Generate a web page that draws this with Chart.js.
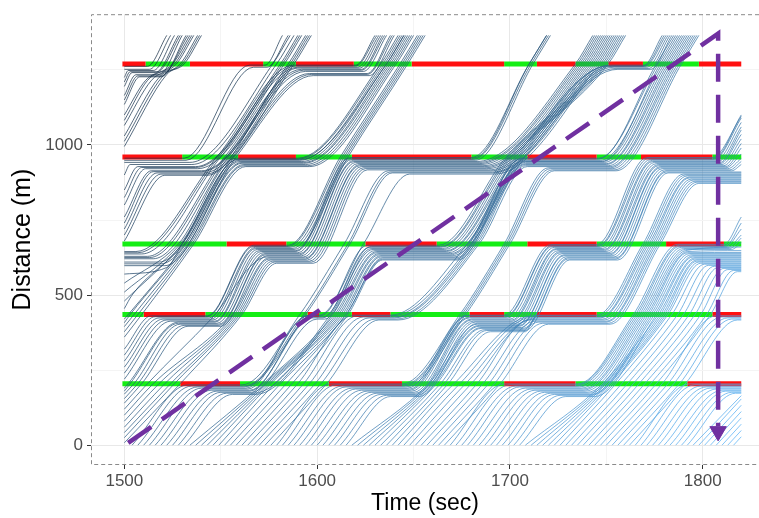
<!DOCTYPE html>
<html>
<head>
<meta charset="utf-8">
<script src="https://cdn.jsdelivr.net/npm/chart.js@4.4.1/dist/chart.umd.min.js"></script>
<style>
  html, body { margin: 0; padding: 0; background: #ffffff; }
  #wrap { width: 759px; height: 518px; }
</style>
</head>
<body>
<div id="wrap"><canvas id="plot" width="759" height="518"></canvas></div>
<script>
// tick values
const xTicks = [1500, 1550, 1600, 1650, 1700, 1750, 1800];
const yTicks = [0, 250, 500, 750, 1000, 1250];

// signal stop lines (m) and the times the light changes, first phase colour
const sigLevels = [205, 435, 670, 960, 1270];
const sigFirst = ['G', 'G', 'G', 'R', 'R'];
const sigTimes205 = [1499, 1529, 1560, 1606, 1644, 1697, 1734, 1792, 1820];
const sigTimes435 = [1499, 1510, 1542, 1595, 1601, 1618, 1638, 1679, 1697, 1714, 1745, 1805, 1820];
const sigTimes670 = [1499, 1553, 1584, 1625, 1662, 1709, 1745, 1781, 1811, 1820];
const sigTimes960 = [1499, 1530, 1559, 1589, 1618, 1680, 1709, 1745, 1768, 1805, 1820];
const sigTimes1270 = [1499, 1511, 1534, 1572, 1589, 1619, 1649, 1697, 1714, 1734, 1751, 1769, 1798, 1820];

// vehicle trajectories, [time, distance, time, distance, ...]
const trajUpper = [
  [1500,1262, 1512,1262, 1522,1365],
  [1500,1252, 1513,1252, 1524,1365],
  [1500,1225, 1502,1248, 1515,1248, 1526,1365],
  [1500,1210, 1503,1244, 1517,1244, 1529,1365],
  [1500,1195, 1504,1241, 1516,1241, 1528,1365],
  [1500,1165, 1506,1234, 1518,1234, 1530,1365],
  [1500,1150, 1507,1230, 1519,1230, 1533,1365],
  [1500,1135, 1508,1227, 1519,1227, 1532,1365],
  [1500,1100, 1511,1215, 1525,1270, 1534,1365],
  [1500,1082, 1512,1215, 1526,1270, 1535,1365],
  [1500,1065, 1514,1215, 1527,1270, 1536,1365],
  [1500,1030, 1518,1225, 1529,1270, 1538,1365],
  [1500,1012, 1520,1230, 1530,1270, 1539,1365],
  [1500,995, 1522,1235, 1531,1270, 1540,1365]
];
const trajMiddle = [
  [1500,956, 1531,956, 1565,1266, 1573,1266, 1582,1365],
  [1500,949, 1532,949, 1567,1259, 1574,1259, 1585,1365],
  [1500,942, 1534,942, 1577,1270, 1586,1365],
  [1500,900, 1503,935, 1535,935, 1579,1270, 1588,1365],
  [1500,850, 1507,928, 1537,928, 1581,1270, 1590,1365],
  [1500,825, 1509,925, 1537,925, 1582,1270, 1591,1365],
  [1500,800, 1511,921, 1538,921, 1583,1270, 1592,1365],
  [1500,760, 1514,914, 1540,914, 1585,1270, 1594,1365],
  [1500,740, 1515,911, 1540,911, 1586,1270, 1595,1365],
  [1500,720, 1517,907, 1541,907, 1587,1270, 1596,1365],
  [1500,700, 1519,903, 1542,903, 1588,1270, 1597,1365],
  [1500,680, 1521,899, 1543,899, 1590,1256, 1622,1256, 1633,1365],
  [1500,645, 1506,645, 1548,960, 1588,1266, 1620,1266, 1630,1365],
  [1500,641, 1507,641, 1549,960, 1589,1263, 1620,1263, 1631,1365],
  [1500,637, 1509,637, 1550,960, 1590,1259, 1621,1259, 1632,1365],
  [1500,629, 1512,629, 1552,960, 1592,1252, 1623,1252, 1634,1365],
  [1500,625, 1513,625, 1553,960, 1593,1249, 1623,1249, 1635,1365],
  [1500,621, 1515,621, 1554,960, 1594,1245, 1624,1245, 1636,1365],
  [1500,610, 1518,610, 1556,960, 1596,1238, 1626,1238, 1638,1365],
  [1500,604, 1519,604, 1557,960, 1597,1235, 1626,1235, 1639,1365],
  [1500,598, 1521,598, 1558,960, 1598,1231, 1627,1231, 1640,1365],
  [1500,570, 1522,592, 1530,670, 1559,951, 1591,951, 1636,1270, 1645,1365],
  [1500,540, 1528,670, 1558,956, 1590,956, 1633,1270, 1642,1365],
  [1500,510, 1529,670, 1559,953, 1590,953, 1634,1270, 1643,1365],
  [1500,480, 1530,670, 1560,949, 1591,949, 1635,1270, 1644,1365],
  [1500,455, 1504,500, 1531,670, 1560,945, 1592,945, 1636,1270, 1645,1365]
];
const trajLower = [
  [1500,420, 1502,435, 1532,670, 1561,942, 1593,942, 1637,1270, 1646,1365],
  [1500,408, 1503,435, 1533,670, 1561,939, 1593,939, 1638,1270, 1647,1365],
  [1500,395, 1505,435, 1534,670, 1562,935, 1594,935, 1639,1270, 1648,1365],
  [1500,378, 1507,435, 1535,670, 1562,931, 1595,931, 1640,1270, 1649,1365],
  [1500,360, 1509,435, 1536,670, 1563,928, 1596,928, 1641,1270, 1650,1365],
  [1500,320, 1514,431, 1543,431, 1567,666, 1585,666, 1612,960, 1643,1270, 1652,1365],
  [1500,300, 1516,428, 1543,428, 1567,662, 1585,662, 1613,960, 1644,1270, 1653,1365],
  [1500,280, 1518,424, 1544,424, 1568,659, 1586,659, 1614,960, 1645,1270, 1654,1365],
  [1500,260, 1520,420, 1545,420, 1568,655, 1587,655, 1615,960, 1646,1270, 1655,1365],
  [1500,240, 1522,417, 1546,417, 1569,652, 1588,652, 1616,960, 1647,1270, 1656,1365],
  [1500,220, 1524,413, 1547,413, 1570,648, 1589,648, 1617,958, 1680,958, 1710,1270, 1719,1365],
  [1500,190, 1502,205, 1528,410, 1547,410, 1571,645, 1589,645, 1618,956, 1681,956, 1710,1270, 1719,1365],
  [1500,180, 1503,205, 1528,406, 1548,406, 1572,641, 1590,641, 1618,952, 1681,952, 1711,1270, 1720,1365],
  [1500,170, 1505,205, 1529,403, 1549,403, 1573,638, 1591,638, 1619,949, 1682,949, 1712,1270, 1721,1365],
  [1500,155, 1507,205, 1531,399, 1549,399, 1573,634, 1591,634, 1619,945, 1683,945, 1734,1270, 1743,1365],
  [1500,140, 1509,205, 1533,396, 1550,396, 1574,631, 1592,631, 1620,942, 1684,942, 1735,1270, 1744,1365],
  [1500,120, 1512,205, 1545,420, 1574,627, 1593,627, 1621,938, 1684,938, 1736,1270, 1745,1365],
  [1500,100, 1515,205, 1556,435, 1575,624, 1594,624, 1622,935, 1685,935, 1737,1270, 1746,1365],
  [1500,80, 1518,205, 1557,435, 1575,620, 1594,620, 1622,931, 1686,931, 1738,1270, 1747,1365],
  [1500,60, 1521,205, 1558,435, 1576,617, 1595,617, 1623,928, 1687,928, 1739,1270, 1748,1365],
  [1500,42, 1524,205, 1559,435, 1577,613, 1596,613, 1624,924, 1687,924, 1740,1270, 1749,1365],
  [1500,25, 1526,205, 1560,435, 1578,610, 1597,610, 1625,921, 1688,921, 1741,1270, 1750,1365],
  [1500,8, 1529,205, 1561,435, 1579,606, 1598,606, 1626,917, 1689,917, 1742,1270, 1751,1365]
];
const trajEnterEarly = [
  [1504,0, 1533,201, 1561,201, 1591,435, 1614,670, 1637,914, 1690,914, 1743,1270, 1752,1365],
  [1507,0, 1535,197, 1562,197, 1593,435, 1616,670, 1638,910, 1691,910, 1744,1270, 1753,1365],
  [1510,0, 1538,194, 1562,194, 1594,435, 1617,670, 1639,907, 1691,907, 1745,1270, 1754,1365],
  [1513,0, 1540,190, 1563,190, 1596,433, 1601,433, 1624,670, 1648,903, 1692,903, 1746,1270, 1755,1365],
  [1516,0, 1543,187, 1564,187, 1595,431, 1602,431, 1626,666, 1663,666, 1698,960, 1747,1270, 1756,1365],
  [1519,0, 1545,183, 1565,183, 1598,427, 1603,427, 1628,662, 1664,662, 1699,960, 1748,1270, 1757,1365],
  [1522,0, 1548,180, 1565,180, 1597,424, 1603,424, 1627,659, 1664,659, 1700,960, 1749,1270, 1758,1365],
  [1525,0, 1550,176, 1566,176, 1600,420, 1604,420, 1628,655, 1665,655, 1701,960, 1750,1270, 1759,1365],
  [1528,0, 1553,173, 1567,173, 1607,435, 1629,652, 1666,652, 1702,960, 1751,1270, 1760,1365],
  [1531,0, 1556,169, 1568,169, 1608,435, 1630,648, 1667,648, 1703,960, 1751,1263, 1769,1263, 1779,1365],
  [1534,0, 1572,205, 1609,435, 1631,645, 1667,645, 1704,960, 1752,1266, 1770,1266, 1780,1365],
  [1537,0, 1573,205, 1610,435, 1631,641, 1668,641, 1705,960, 1753,1262, 1770,1262, 1781,1365],
  [1540,0, 1574,205, 1611,435, 1632,638, 1669,638, 1706,960, 1754,1259, 1771,1259, 1782,1365],
  [1543,0, 1575,205, 1612,435, 1632,634, 1669,634, 1707,960, 1755,1255, 1772,1255, 1783,1365],
  [1546,0, 1576,205, 1613,435, 1633,631, 1670,631, 1708,960, 1756,1252, 1773,1252, 1784,1365],
  [1549,0, 1578,205, 1614,435, 1633,627, 1671,627, 1706,953, 1746,953, 1776,1270, 1785,1365],
  [1552,0, 1581,205, 1615,435, 1634,624, 1672,624, 1706,956, 1746,956, 1777,1270, 1786,1365],
  [1555,0, 1584,205, 1615,435, 1634,620, 1672,620, 1707,946, 1748,946, 1778,1270, 1787,1365],
  [1558,0, 1587,205, 1616,435, 1634,617, 1673,617, 1707,949, 1747,949, 1779,1270, 1788,1365],
  [1561,0, 1590,205, 1619,433, 1638,433, 1678,670, 1708,945, 1748,945, 1780,1270, 1789,1365],
  [1564,0, 1593,205, 1621,431, 1639,431, 1680,670, 1708,942, 1749,942, 1781,1270, 1790,1365],
  [1567,0, 1596,205, 1624,427, 1640,427, 1681,670, 1708,938, 1750,938, 1782,1270, 1791,1365],
  [1570,0, 1599,205, 1627,424, 1640,424, 1682,670, 1708,935, 1750,935, 1783,1270, 1792,1365],
  [1573,0, 1602,205, 1630,420, 1641,420, 1683,670, 1708,931, 1751,931, 1784,1270, 1793,1365],
  [1576,0, 1605,205, 1632,417, 1642,417, 1684,670, 1709,928, 1752,928, 1785,1270, 1794,1365],
  [1579,0, 1607,204, 1644,204, 1674,435, 1697,670, 1720,924, 1752,924, 1786,1270, 1795,1365],
  [1582,0, 1610,201, 1645,201, 1675,435, 1698,670, 1721,921, 1753,921, 1787,1270, 1796,1365],
  [1585,0, 1613,197, 1645,197, 1676,435, 1699,670, 1722,917, 1754,917, 1788,1270, 1797,1365],
  [1588,0, 1615,194, 1646,194, 1677,435, 1700,670, 1723,914, 1755,914, 1789,1270, 1798,1365],
  [1591,0, 1618,190, 1647,190, 1678,433, 1697,433, 1721,668, 1745,668, 1771,958, 1805,958, 1820,1095]
];
const trajEnterMid = [
  [1594,0, 1620,187, 1648,187, 1678,431, 1698,431, 1722,666, 1746,666, 1772,956, 1806,956, 1820,1100],
  [1597,0, 1623,183, 1648,183, 1679,427, 1698,427, 1722,662, 1746,662, 1773,952, 1806,952, 1820,1090],
  [1600,0, 1626,180, 1649,180, 1679,424, 1699,424, 1723,659, 1747,659, 1774,949, 1807,949, 1820,1075],
  [1603,0, 1628,176, 1650,176, 1680,420, 1700,420, 1724,655, 1748,655, 1774,945, 1808,945, 1820,1060],
  [1606,0, 1631,173, 1651,173, 1680,417, 1701,417, 1724,652, 1749,652, 1775,942, 1809,942, 1820,1050],
  [1609,0, 1633,169, 1651,169, 1681,413, 1701,413, 1725,648, 1749,648, 1776,938, 1809,938, 1820,1035],
  [1612,0, 1636,166, 1652,166, 1682,410, 1702,410, 1726,645, 1750,645, 1777,935, 1810,935, 1820,1020],
  [1615,0, 1638,162, 1653,162, 1683,406, 1703,406, 1726,641, 1751,641, 1777,931, 1811,931, 1820,1005],
  [1618,0, 1658,205, 1683,403, 1704,403, 1727,638, 1752,638, 1778,928, 1812,928, 1820,990],
  [1621,0, 1659,205, 1684,399, 1705,399, 1728,634, 1752,634, 1778,924, 1812,924, 1820,970],
  [1624,0, 1660,205, 1684,396, 1705,396, 1728,631, 1753,631, 1779,921, 1813,921, 1820,955],
  [1627,0, 1661,205, 1685,392, 1706,392, 1729,627, 1754,627, 1780,917, 1814,917, 1820,945],
  [1630,0, 1662,205, 1685,389, 1707,389, 1730,624, 1755,624, 1781,914, 1815,914, 1820,935],
  [1633,0, 1664,205, 1687,385, 1707,385, 1730,620, 1755,620, 1781,910, 1820,910],
  [1636,0, 1666,205, 1688,382, 1708,382, 1731,617, 1756,617, 1782,907, 1820,907],
  [1639,0, 1668,205, 1690,378, 1708,378, 1714,433, 1745,433, 1769,670, 1790,903, 1820,903],
  [1642,0, 1671,205, 1712,431, 1746,431, 1770,670, 1791,900, 1820,900],
  [1645,0, 1674,205, 1712,427, 1747,427, 1771,670, 1792,897, 1820,897],
  [1648,0, 1677,205, 1713,424, 1747,424, 1772,670, 1793,893, 1820,893],
  [1651,0, 1680,205, 1712,420, 1748,420, 1773,670, 1793,890, 1820,890],
  [1654,0, 1683,205, 1710,417, 1749,417, 1774,670, 1794,886, 1820,886],
  [1657,0, 1686,205, 1713,413, 1750,413, 1775,670, 1795,883, 1820,883],
  [1660,0, 1689,205, 1715,410, 1750,410, 1776,670, 1796,879, 1820,879],
  [1663,0, 1692,205, 1717,406, 1751,406, 1777,670, 1797,876, 1820,876],
  [1666,0, 1695,205, 1720,403, 1752,403, 1778,670, 1798,872, 1820,872],
  [1669,0, 1697,204, 1735,204, 1764,435, 1787,669, 1811,669, 1820,760],
  [1672,0, 1700,201, 1735,201, 1765,435, 1788,666, 1812,666, 1820,740],
  [1675,0, 1703,197, 1735,197, 1766,435, 1788,662, 1812,662, 1820,720],
  [1678,0, 1705,194, 1736,194, 1767,435, 1789,659, 1813,659, 1820,700],
  [1681,0, 1708,190, 1737,190, 1768,435, 1790,655, 1814,655, 1820,690]
];
const trajEnterLate = [
  [1684,0, 1711,187, 1738,187, 1769,435, 1791,652, 1815,652, 1820,675],
  [1687,0, 1713,183, 1738,183, 1770,435, 1791,648, 1820,660],
  [1690,0, 1716,180, 1739,180, 1771,435, 1792,645, 1820,648],
  [1693,0, 1718,176, 1740,176, 1772,435, 1792,641, 1820,642],
  [1696,0, 1721,173, 1741,173, 1773,435, 1793,638, 1820,638],
  [1699,0, 1723,169, 1742,169, 1774,435, 1794,634, 1820,634],
  [1702,0, 1726,166, 1742,166, 1775,435, 1795,631, 1820,631],
  [1705,0, 1729,162, 1744,162, 1776,435, 1795,627, 1820,627],
  [1708,0, 1748,205, 1777,435, 1796,624, 1820,624],
  [1711,0, 1749,205, 1778,435, 1796,620, 1820,620],
  [1714,0, 1750,205, 1779,435, 1797,617, 1820,617],
  [1717,0, 1751,205, 1780,435, 1797,613, 1820,613],
  [1720,0, 1752,205, 1781,435, 1798,610, 1820,610],
  [1723,0, 1753,205, 1782,435, 1799,606, 1820,606],
  [1726,0, 1755,205, 1784,435, 1801,603, 1820,603],
  [1729,0, 1758,205, 1787,435, 1803,599, 1820,599],
  [1732,0, 1761,205, 1790,435, 1806,596, 1820,596],
  [1735,0, 1764,205, 1793,435, 1808,592, 1820,592],
  [1738,0, 1767,205, 1796,435, 1811,589, 1820,589],
  [1741,0, 1770,205, 1799,435, 1813,585, 1820,585],
  [1744,0, 1773,205, 1802,435, 1816,582, 1820,582],
  [1747,0, 1776,205, 1804,435, 1818,578, 1820,578],
  [1750,0, 1779,205, 1807,431, 1820,431],
  [1753,0, 1782,205, 1810,427, 1820,427],
  [1756,0, 1785,205, 1813,424, 1820,424],
  [1759,0, 1788,205, 1815,420, 1820,420],
  [1762,0, 1791,205, 1818,417, 1820,417],
  [1765,0, 1793,204, 1820,204],
  [1768,0, 1796,201, 1820,201],
  [1771,0, 1799,197, 1820,197],
  [1774,0, 1802,194, 1820,194],
  [1777,0, 1804,190, 1820,190],
  [1780,0, 1807,187, 1820,187],
  [1783,0, 1810,183, 1820,183],
  [1786,0, 1812,180, 1820,180],
  [1789,0, 1815,176, 1820,176],
  [1792,0, 1817,173, 1820,173],
  [1795,0, 1820,165],
  [1798,0, 1820,154],
  [1801,0, 1820,133],
  [1804,0, 1820,112],
  [1807,0, 1820,91],
  [1810,0, 1820,70],
  [1813,0, 1820,49],
  [1816,0, 1820,28]
];

// purple dashed annotation: diagonal then straight down to the arrow head
const arrowPath = [1502, 8, 1808, 1371, 1808, 63];
const arrowTip = [1808, 46];

const toPoints = arr => {
  const pts = [];
  for (let i = 0; i < arr.length; i += 2) pts.push({x: arr[i], y: arr[i + 1]});
  return pts;
};

const allTraj = [].concat(trajUpper, trajMiddle, trajLower, trajEnterEarly, trajEnterMid, trajEnterLate);

function vehColor(i, n) {
  const lo = [0x13, 0x2B, 0x43], hi = [0x56, 0xB1, 0xF7];
  const f = i / (n - 1);
  const c = lo.map((v, k) => Math.round(v + (hi[k] - v) * f));
  return `rgba(${c[0]},${c[1]},${c[2]},0.72)`;
}

const datasets = [];

// arrow on top
datasets.push({
  data: toPoints(arrowPath),
  showLine: true, borderColor: '#7030A0', borderWidth: 4.5,
  borderDash: [28, 13], pointRadius: 0, order: 0, borderJoinStyle: 'miter'
});
datasets.push({
  data: toPoints(arrowTip),
  showLine: false, pointStyle: 'triangle', rotation: 180, pointRadius: 9.5,
  backgroundColor: '#7030A0', borderColor: '#7030A0', borderWidth: 1, order: 0
});

allTraj.forEach((tr, i) => {
  datasets.push({
    data: toPoints(tr),
    showLine: true, borderColor: vehColor(i, allTraj.length), borderWidth: 1,
    pointRadius: 0, cubicInterpolationMode: 'monotone', order: 1
  });
});

const sigTimes = [sigTimes205, sigTimes435, sigTimes670, sigTimes960, sigTimes1270];
sigLevels.forEach((lvl, k) => {
  const times = sigTimes[k];
  let isGreen = sigFirst[k] === 'G';
  for (let i = 0; i < times.length - 1; i++) {
    datasets.push({
      data: [{x: times[i], y: lvl}, {x: times[i + 1], y: lvl}],
      showLine: true, borderColor: isGreen ? '#14ee14' : '#ff1010',
      borderWidth: 5, borderCapStyle: 'butt', pointRadius: 0, order: 2
    });
    isGreen = !isGreen;
  }
});

const panelBorder = {
  id: 'panelBorder',
  afterDraw(chart) {
    const {ctx, chartArea: a} = chart;
    ctx.save();
    ctx.strokeStyle = '#8a8a8a';
    ctx.lineWidth = 1;
    ctx.setLineDash([4, 3]);
    ctx.beginPath();
    ctx.moveTo(a.right, a.top + 0.5);
    ctx.lineTo(a.left + 0.5, a.top + 0.5);
    ctx.lineTo(a.left + 0.5, a.bottom - 0.5);
    ctx.lineTo(a.right, a.bottom - 0.5);
    ctx.stroke();
    ctx.restore();
  }
};

const tickFont = {family: 'Liberation Sans', size: 17};
const titleFont = {family: 'Liberation Sans', size: 23};

new Chart(document.getElementById('plot'), {
  type: 'scatter',
  data: {datasets},
  options: {
    responsive: false,
    animation: false,
    events: [],
    layout: {autoPadding: false, padding: {top: 10, right: 0, left: 0, bottom: 0}},
    plugins: {legend: {display: false}, tooltip: {enabled: false}},
    scales: {
      x: {
        type: 'linear', min: 1482.7, max: 1829.2,
        afterBuildTicks: ax => { ax.ticks = xTicks.map(v => ({value: v})); },
        afterFit: ax => { ax.height = 53; },
        border: {display: false},
        grid: {
          color: c => (c.tick && c.tick.value % 100 === 0) ? '#e8e8e8' : '#f4f4f4',
          tickLength: 4,
          tickColor: c => (c.tick && c.tick.value % 100 === 0) ? '#333333' : 'rgba(0,0,0,0)'
        },
        ticks: {
          callback: v => (v % 100 === 0 ? String(v) : ''),
          color: '#4d4d4d', font: tickFont, padding: 2, maxRotation: 0, autoSkip: false
        },
        title: {display: true, text: 'Time (sec)', color: '#000000', font: titleFont, padding: {top: 0, bottom: 1}}
      },
      y: {
        type: 'linear', min: -66, max: 1435.6,
        afterBuildTicks: ax => { ax.ticks = yTicks.map(v => ({value: v})); },
        afterFit: ax => { ax.width = 91; },
        border: {display: false},
        grid: {
          color: c => (c.tick && c.tick.value % 500 === 0) ? '#e8e8e8' : '#f4f4f4',
          tickLength: 4,
          tickColor: c => (c.tick && c.tick.value % 500 === 0) ? '#333333' : 'rgba(0,0,0,0)'
        },
        ticks: {
          callback: v => (v % 500 === 0 ? String(v) : ''),
          color: '#4d4d4d', font: tickFont, padding: 4, autoSkip: false
        },
        title: {display: true, text: 'Distance (m)', color: '#000000', font: {family: 'Liberation Sans', size: 25}, padding: {top: 8, bottom: 0}}
      }
    }
  },
  plugins: [panelBorder]
});
</script>
</body>
</html>
